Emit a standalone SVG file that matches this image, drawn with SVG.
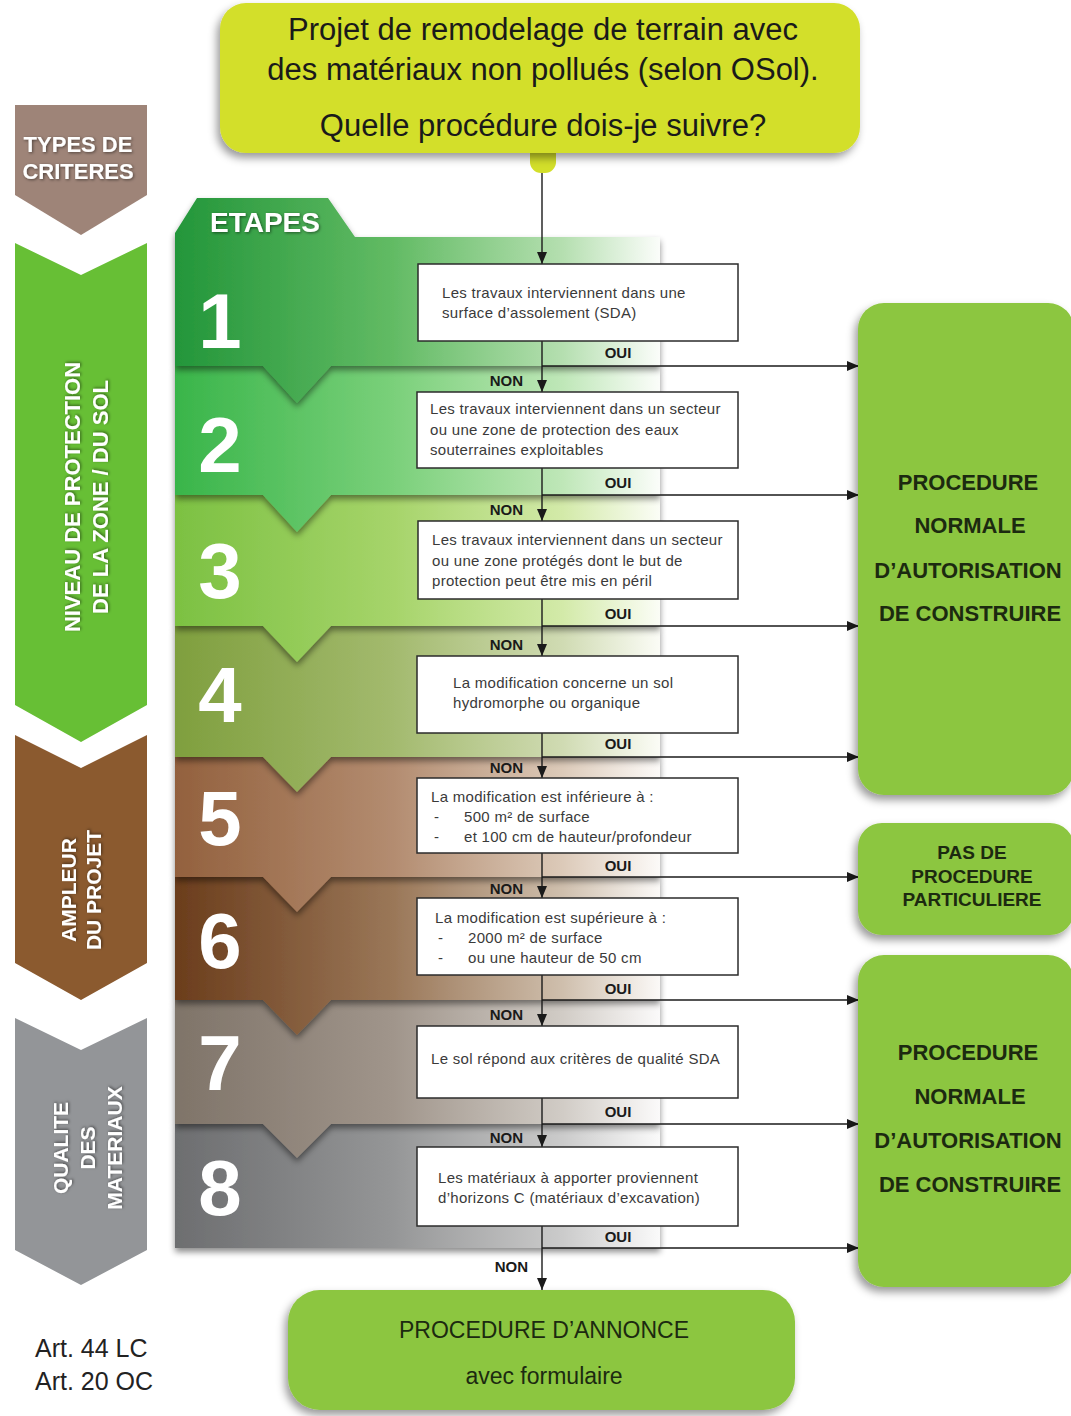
<svg xmlns="http://www.w3.org/2000/svg" width="1071" height="1416" viewBox="0 0 1071 1416">
<defs>
<style>
text{font-family:"Liberation Sans",Arial,sans-serif}
.title{font-size:31px;fill:#1a1a1a;text-anchor:middle}
.crit{font-size:22px;font-weight:bold;fill:#fff;text-anchor:middle}
.num{font-size:78px;font-weight:bold;fill:#fff;text-anchor:middle}
.box{fill:#fff;stroke:#2b2b2b;stroke-width:1.5}
.bt{font-size:15px;fill:#3a3a3a;letter-spacing:0.3px}
.non{font-size:15px;font-weight:bold;fill:#1a1a1a;text-anchor:end}
.oui{font-size:15px;font-weight:bold;fill:#1a1a1a;text-anchor:middle}
.res{fill:#8cc63f}
.rt{font-size:22px;font-weight:bold;fill:#1c2a10;text-anchor:middle}
.rs{font-size:19px;font-weight:bold;fill:#1c2a10;text-anchor:middle}
.bb{font-size:23px;fill:#1c2a10;text-anchor:middle}
.con{stroke:#1a1a1a;stroke-width:1.4;fill:none;marker-end:url(#ah)}
.art{font-size:25px;fill:#222}
</style>
<marker id="ah" markerUnits="userSpaceOnUse" markerWidth="12" markerHeight="10" refX="12" refY="5" orient="auto"><path d="M0,0 L12,5 L0,10 Z" fill="#1a1a1a"/></marker>
<filter id="bsh" x="-10%" y="-20%" width="120%" height="150%"><feDropShadow dx="0" dy="4" stdDeviation="3" flood-color="#000" flood-opacity="0.45"/></filter>
<filter id="psh" x="-10%" y="-10%" width="120%" height="130%"><feDropShadow dx="-3" dy="5" stdDeviation="4" flood-color="#000" flood-opacity="0.4"/></filter>
<filter id="tsh" x="-10%" y="-10%" width="120%" height="130%"><feDropShadow dx="1" dy="1" stdDeviation="1.5" flood-color="#000" flood-opacity="0.5"/></filter>
<linearGradient id="g1" gradientUnits="userSpaceOnUse" x1="175" y1="0" x2="660" y2="0"><stop offset="0" stop-color="#23963a"/><stop offset="0.45" stop-color="#62bb64"/><stop offset="0.8" stop-color="#b5dfb0"/><stop offset="1" stop-color="#fbfdfa"/></linearGradient>
<linearGradient id="g2" gradientUnits="userSpaceOnUse" x1="175" y1="0" x2="660" y2="0"><stop offset="0" stop-color="#39b54a"/><stop offset="0.45" stop-color="#7ad07a"/><stop offset="0.8" stop-color="#bfe7b8"/><stop offset="1" stop-color="#fbfdfa"/></linearGradient>
<linearGradient id="g3" gradientUnits="userSpaceOnUse" x1="175" y1="0" x2="660" y2="0"><stop offset="0" stop-color="#7cc142"/><stop offset="0.45" stop-color="#a6d46a"/><stop offset="0.8" stop-color="#d3eaa9"/><stop offset="1" stop-color="#fbfdf6"/></linearGradient>
<linearGradient id="g4" gradientUnits="userSpaceOnUse" x1="175" y1="0" x2="660" y2="0"><stop offset="0" stop-color="#7f9f3e"/><stop offset="0.45" stop-color="#a3ba6e"/><stop offset="0.8" stop-color="#d0dbb3"/><stop offset="1" stop-color="#fbfcf6"/></linearGradient>
<linearGradient id="g5" gradientUnits="userSpaceOnUse" x1="175" y1="0" x2="660" y2="0"><stop offset="0" stop-color="#93613e"/><stop offset="0.45" stop-color="#b38c70"/><stop offset="0.8" stop-color="#dccab9"/><stop offset="1" stop-color="#fcfaf8"/></linearGradient>
<linearGradient id="g6" gradientUnits="userSpaceOnUse" x1="175" y1="0" x2="660" y2="0"><stop offset="0" stop-color="#6b3d1c"/><stop offset="0.45" stop-color="#9a7758"/><stop offset="0.8" stop-color="#cfbfad"/><stop offset="1" stop-color="#fbf9f7"/></linearGradient>
<linearGradient id="g7" gradientUnits="userSpaceOnUse" x1="175" y1="0" x2="660" y2="0"><stop offset="0" stop-color="#7f7469"/><stop offset="0.45" stop-color="#a0958b"/><stop offset="0.8" stop-color="#d1ccc6"/><stop offset="1" stop-color="#fbfafa"/></linearGradient>
<linearGradient id="g8" gradientUnits="userSpaceOnUse" x1="175" y1="0" x2="660" y2="0"><stop offset="0" stop-color="#6d6e70"/><stop offset="0.45" stop-color="#959697"/><stop offset="0.8" stop-color="#cbcbcb"/><stop offset="1" stop-color="#fafafa"/></linearGradient>
</defs>
<rect width="1071" height="1416" fill="#fff"/>

<g id="criteria">
<g id="types-criteres">
<path d="M15,105 L147,105 L147,195 L81,235 L15,195 Z" fill="#9e8478"/>
<text class="crit" filter="url(#tsh)"><tspan x="78" y="152">TYPES DE</tspan><tspan x="78" y="179">CRITERES</tspan></text>
</g>
<g id="crit-protection">
<path d="M15,243 L81,275 L147,243 L147,705 L81,742 L15,705 Z" fill="#67bf35"/>
<text class="crit" filter="url(#tsh)" transform="translate(80,497) rotate(-90)"><tspan x="0" y="0">NIVEAU DE PROTECTION</tspan><tspan x="0" y="28">DE LA ZONE / DU SOL</tspan></text>
</g>
<g id="crit-ampleur">
<path d="M15,735 L81,768 L147,735 L147,963 L81,1000 L15,963 Z" fill="#8b5a2f"/>
<text class="crit" style="font-size:21px" filter="url(#tsh)" transform="translate(76,890) rotate(-90)"><tspan x="0" y="0">AMPLEUR</tspan><tspan x="0" y="25">DU PROJET</tspan></text>
</g>
<g id="crit-qualite">
<path d="M15,1018 L81,1050 L147,1018 L147,1250 L81,1285 L15,1250 Z" fill="#939598"/>
<text class="crit" style="font-size:21px" filter="url(#tsh)" transform="translate(68,1148) rotate(-90)"><tspan x="0" y="0">QUALITE</tspan><tspan x="0" y="27">DES</tspan><tspan x="0" y="54">MATERIAUX</tspan></text>
</g>
</g>

<g id="bands">
<g id="band8"><path d="M175,1124 L660,1124 L660,1248 L175,1248 Z" fill="url(#g8)" filter="url(#bsh)"/><text class="num" x="220" y="1215">8</text></g>
<g id="band7"><path d="M175,1000 L660,1000 L660,1124 L331,1124 L297,1158 L263,1124 L175,1124 Z" fill="url(#g7)" filter="url(#bsh)"/><text class="num" x="220" y="1090">7</text></g>
<g id="band6"><path d="M175,877 L660,877 L660,1000 L331,1000 L297,1035 L263,1000 L175,1000 Z" fill="url(#g6)" filter="url(#bsh)"/><text class="num" x="220" y="968">6</text></g>
<g id="band5"><path d="M175,757 L660,757 L660,877 L331,877 L297,912 L263,877 L175,877 Z" fill="url(#g5)" filter="url(#bsh)"/><text class="num" x="220" y="845">5</text></g>
<g id="band4"><path d="M175,626 L660,626 L660,757 L331,757 L297,792 L263,757 L175,757 Z" fill="url(#g4)" filter="url(#bsh)"/><text class="num" x="220" y="722">4</text></g>
<g id="band3"><path d="M175,495 L660,495 L660,626 L331,626 L297,662 L263,626 L175,626 Z" fill="url(#g3)" filter="url(#bsh)"/><text class="num" x="220" y="598">3</text></g>
<g id="band2"><path d="M175,366 L660,366 L660,495 L331,495 L297,532 L263,495 L175,495 Z" fill="url(#g2)" filter="url(#bsh)"/><text class="num" x="220" y="472">2</text></g>
<g id="band1"><path d="M175,233 L197,198 L328,198 L355,237 L660,237 L660,366 L331,366 L297,403 L263,366 L175,366 Z" fill="url(#g1)" filter="url(#bsh)"/><text class="num" x="220" y="348">1</text>
<text class="crit" style="font-size:28px" filter="url(#tsh)" x="265" y="232">ETAPES</text></g>
</g>

<g id="question">
<rect x="530" y="140" width="26" height="33" rx="11" fill="#d3df2a"/>
<rect x="220" y="3" width="640" height="150" rx="26" fill="#d3df2a" filter="url(#psh)"/>
<text class="title"><tspan x="543" y="40">Projet de remodelage de terrain avec</tspan><tspan x="543" y="80">des matériaux non pollués (selon OSol).</tspan><tspan x="543" y="136">Quelle procédure dois-je suivre?</tspan></text>
</g>

<g id="connectors">
<path class="con" d="M542,173 L542,264"/>
<path class="con" d="M542,341 L542,392"/>
<path class="con" d="M542,468 L542,521"/>
<path class="con" d="M542,599 L542,656"/>
<path class="con" d="M542,733 L542,778"/>
<path class="con" d="M542,853 L542,898"/>
<path class="con" d="M542,975 L542,1026"/>
<path class="con" d="M542,1098 L542,1147"/>
<path class="con" d="M542,1226 L542,1290"/>
<path class="con" d="M542,366 L859,366"/>
<path class="con" d="M542,495 L859,495"/>
<path class="con" d="M542,626 L859,626"/>
<path class="con" d="M542,757 L859,757"/>
<path class="con" d="M542,877 L859,877"/>
<path class="con" d="M542,1000 L859,1000"/>
<path class="con" d="M542,1124 L859,1124"/>
<path class="con" d="M542,1248 L859,1248"/>
<text class="oui" x="618" y="358">OUI</text>
<text class="oui" x="618" y="488">OUI</text>
<text class="oui" x="618" y="619">OUI</text>
<text class="oui" x="618" y="749">OUI</text>
<text class="oui" x="618" y="871">OUI</text>
<text class="oui" x="618" y="994">OUI</text>
<text class="oui" x="618" y="1117">OUI</text>
<text class="oui" x="618" y="1242">OUI</text>
<text class="non" x="523" y="386">NON</text>
<text class="non" x="523" y="515">NON</text>
<text class="non" x="523" y="650">NON</text>
<text class="non" x="523" y="773">NON</text>
<text class="non" x="523" y="894">NON</text>
<text class="non" x="523" y="1020">NON</text>
<text class="non" x="523" y="1143">NON</text>
<text class="non" x="528" y="1272">NON</text>
</g>

<g id="step1"><rect class="box" x="418" y="264" width="320" height="77"/>
<text class="bt"><tspan x="442" y="298">Les travaux interviennent dans une</tspan><tspan x="442" y="318">surface d’assolement (SDA)</tspan></text></g>
<g id="step2"><rect class="box" x="417" y="392" width="321" height="76"/>
<text class="bt"><tspan x="430" y="414">Les travaux interviennent dans un secteur</tspan><tspan x="430" y="435">ou une zone de protection des eaux</tspan><tspan x="430" y="455">souterraines exploitables</tspan></text></g>
<g id="step3"><rect class="box" x="418" y="521" width="320" height="78"/>
<text class="bt"><tspan x="432" y="545">Les travaux interviennent dans un secteur</tspan><tspan x="432" y="566">ou une zone protégés dont le but de</tspan><tspan x="432" y="586">protection peut être mis en péril</tspan></text></g>
<g id="step4"><rect class="box" x="417" y="656" width="321" height="77"/>
<text class="bt"><tspan x="453" y="688">La modification concerne un sol</tspan><tspan x="453" y="708">hydromorphe ou organique</tspan></text></g>
<g id="step5"><rect class="box" x="417" y="778" width="321" height="75"/>
<text class="bt"><tspan x="431" y="802">La modification est inférieure à :</tspan><tspan x="434" y="822">-</tspan><tspan x="464" y="822">500 m² de surface</tspan><tspan x="434" y="842">-</tspan><tspan x="464" y="842">et 100 cm de hauteur/profondeur</tspan></text></g>
<g id="step6"><rect class="box" x="417" y="898" width="321" height="77"/>
<text class="bt"><tspan x="435" y="923">La modification est supérieure à :</tspan><tspan x="438" y="943">-</tspan><tspan x="468" y="943">2000 m² de surface</tspan><tspan x="438" y="963">-</tspan><tspan x="468" y="963">ou une hauteur de 50 cm</tspan></text></g>
<g id="step7"><rect class="box" x="417" y="1026" width="321" height="72"/>
<text class="bt"><tspan x="431" y="1064">Le sol répond aux critères de qualité SDA</tspan></text></g>
<g id="step8"><rect class="box" x="417" y="1147" width="321" height="79"/>
<text class="bt"><tspan x="438" y="1183">Les matériaux à apporter proviennent</tspan><tspan x="438" y="1203">d’horizons C (matériaux d’excavation)</tspan></text></g>

<g id="result-normale-1"><rect class="res" x="858" y="303" width="216" height="492" rx="26" filter="url(#psh)"/>
<text class="rt"><tspan x="968" y="490">PROCEDURE</tspan><tspan x="970" y="533">NORMALE</tspan><tspan x="968" y="578">D’AUTORISATION</tspan><tspan x="970" y="621">DE CONSTRUIRE</tspan></text></g>
<g id="result-pas"><rect class="res" x="858" y="823" width="216" height="112" rx="24" filter="url(#psh)"/>
<text class="rs"><tspan x="972" y="859">PAS DE</tspan><tspan x="972" y="883">PROCEDURE</tspan><tspan x="972" y="906">PARTICULIERE</tspan></text></g>
<g id="result-normale-2"><rect class="res" x="858" y="955" width="216" height="332" rx="26" filter="url(#psh)"/>
<text class="rt"><tspan x="968" y="1060">PROCEDURE</tspan><tspan x="970" y="1104">NORMALE</tspan><tspan x="968" y="1148">D’AUTORISATION</tspan><tspan x="970" y="1192">DE CONSTRUIRE</tspan></text></g>
<g id="result-annonce"><rect class="res" x="288" y="1290" width="507" height="120" rx="32" filter="url(#psh)"/>
<text class="bb"><tspan x="544" y="1338">PROCEDURE D’ANNONCE</tspan><tspan x="544" y="1384">avec formulaire</tspan></text></g>

<g id="references">
<text class="art"><tspan x="35" y="1357">Art. 44 LC</tspan><tspan x="35" y="1390">Art. 20 OC</tspan></text>
</g>
</svg>
